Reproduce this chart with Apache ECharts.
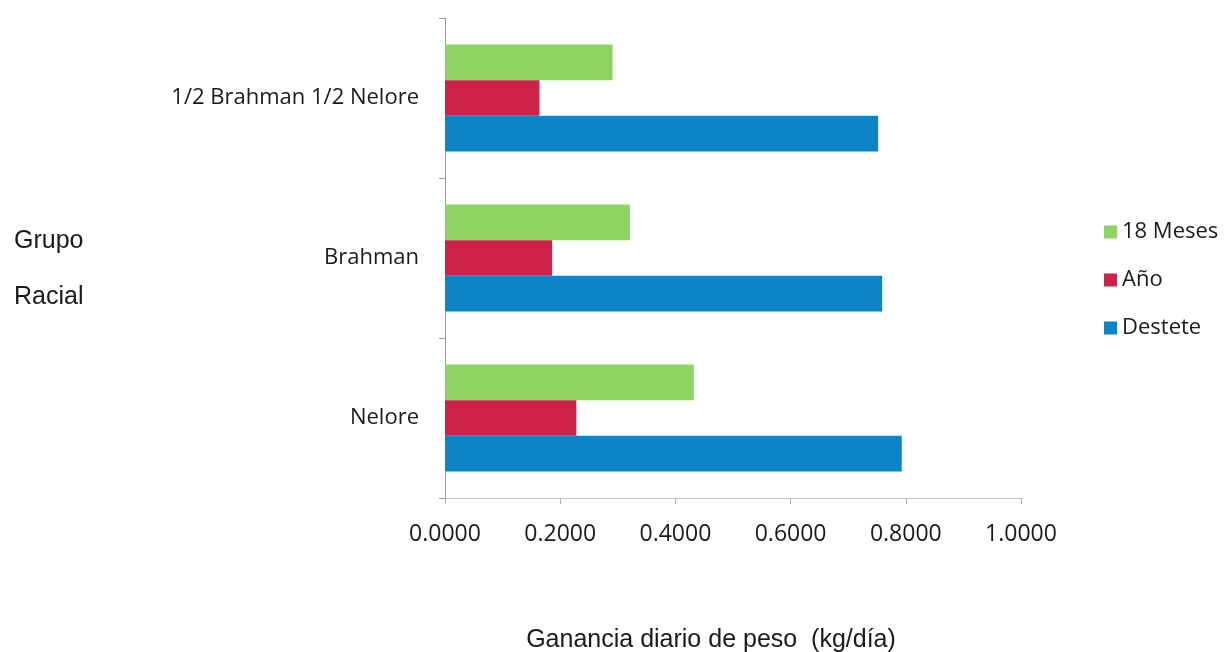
<!DOCTYPE html>
<html>
<head>
<meta charset="utf-8">
<script src="https://cdn.jsdelivr.net/npm/echarts@6/dist/echarts.min.js"></script>
<style>
  html, body { margin: 0; padding: 0; background: #fff; }
  #grafico { width: 1232px; height: 652px; }
</style>
</head>
<body>
<div id="grafico"></div>
<script>
// grupos raciales, de abajo hacia arriba
var grupos = ['Nelore', 'Brahman', '1/2 Brahman 1/2 Nelore'];
var destete = [0.793, 0.759, 0.752];
var anio = [0.228, 0.186, 0.164];
var meses18 = [0.432, 0.321, 0.291];
var ticks_x = [0, 0.2, 0.4, 0.6, 0.8, 1.0];

var fuente = '"Open Sans", "Noto Sans", sans-serif';
var arial = 'Arial, "Liberation Sans", sans-serif';

var myChart = echarts.init(document.getElementById('grafico'));

var option = {
    backgroundColor: '#ffffff',
    animation: false,
    grid: { left: 445, right: 211, top: 18, bottom: 154, outerBoundsMode: 'none', containLabel: false },
    legend: {
        orient: 'vertical',
        left: 1099,
        top: 216,
        itemWidth: 13,
        itemHeight: 13,
        itemGap: 26,
        icon: 'rect',
        data: ['18 Meses', 'Año', 'Destete'],
        textStyle: { fontFamily: fuente, fontSize: 22, color: '#1a1a1a' }
    },
    xAxis: {
        type: 'value',
        min: ticks_x[0],
        max: ticks_x[ticks_x.length - 1],
        interval: 0.2,
        name: 'Ganancia diario de peso  (kg/día)',
        nameLocation: 'middle',
        nameGap: 130,
        nameTextStyle: { fontFamily: arial, fontSize: 25, color: '#1a1a1a', padding: [0, 44, 0, 0] },
        axisLine: { show: true, lineStyle: { color: '#c4c4c4', width: 1 } },
        axisTick: { show: true, length: 6, lineStyle: { color: '#b0b0b0' } },
        splitLine: { show: false },
        axisLabel: {
            margin: 25,
            fontFamily: fuente,
            fontSize: 23,
            color: '#1a1a1a',
            formatter: function (v) { return v.toFixed(4); }
        }
    },
    yAxis: {
        type: 'category',
        data: grupos,
        axisLine: { show: true, lineStyle: { color: '#9a9a9a', width: 1 } },
        axisTick: { show: true, length: 6, lineStyle: { color: '#9a9a9a' } },
        axisLabel: { margin: 26, fontFamily: fuente, fontSize: 22, color: '#1a1a1a' }
    },
    graphic: [
        { type: 'text', left: 14, top: 229, style: { text: 'Grupo', font: '25px ' + arial, fill: '#1a1a1a' } },
        { type: 'text', left: 14, top: 285, style: { text: 'Racial', font: '25px ' + arial, fill: '#1a1a1a' } }
    ],
    series: [
        { name: '18 Meses', type: 'bar', data: meses18, barGap: '0%', barCategoryGap: '33%', itemStyle: { color: '#8ed463' } },
        { name: 'Año', type: 'bar', data: anio, barGap: '0%', barCategoryGap: '33%', itemStyle: { color: '#cd2149' } },
        { name: 'Destete', type: 'bar', data: destete, barGap: '0%', barCategoryGap: '33%', itemStyle: { color: '#0c84c6' } }
    ]
};

myChart.setOption(option, true);
</script>
</body>
</html>
